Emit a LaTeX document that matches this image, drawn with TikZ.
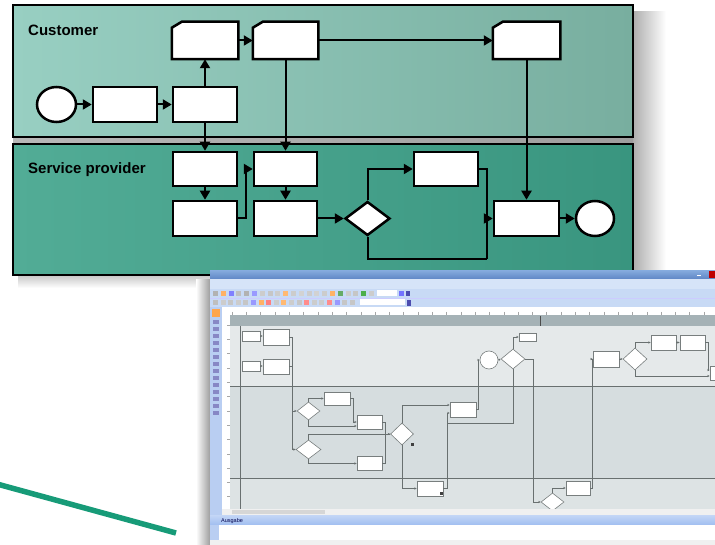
\documentclass[tikz,border=0pt]{standalone}
\usepackage{fontspec}
\setmainfont{Liberation Sans}
\usetikzlibrary{arrows.meta,shapes.geometric}
\definecolor{laneAa}{RGB}{152,207,194}
\definecolor{laneAb}{RGB}{104,156,141}
\definecolor{laneAc}{RGB}{120,174,159}
\definecolor{laneBa}{RGB}{82,172,150}
\definecolor{laneBb}{RGB}{47,139,116}
\definecolor{laneBc}{RGB}{57,149,127}
\definecolor{penline}{RGB}{23,155,120}
\definecolor{titleA}{RGB}{130,168,220}
\definecolor{titleB}{RGB}{95,135,198}
\definecolor{menubg}{RGB}{214,228,248}
\definecolor{toolbg}{RGB}{200,218,245}
\definecolor{strip}{RGB}{185,206,242}
\definecolor{hdrband}{RGB}{165,178,182}
\definecolor{regA}{RGB}{229,233,234}
\definecolor{regB}{RGB}{214,221,223}
\definecolor{regC}{RGB}{221,227,228}
\definecolor{sgray}{RGB}{105,112,112}
\definecolor{sbord}{RGB}{120,126,126}
\definecolor{blueA}{RGB}{196,214,246}
\definecolor{blueB}{RGB}{160,190,240}
\newcommand\mydocshape[1]{\draw[line width=2.5pt, fill=white, line join=miter] (#1.south west) -- (#1.south east) -- (#1.north east) -- ([xshift=10pt]#1.north west) -- ([yshift=-6pt]#1.north west) -- cycle;}
\begin{document}
\begin{tikzpicture}[x=1pt,y=-1pt,
  lane/.style={draw=black, line width=2.5pt},
  lanelabel/.style={font=\bfseries\fontsize{15}{18}\selectfont, inner sep=0pt, anchor=west},
  box/.style={draw=black, line width=2.5pt, fill=white, minimum width=64pt, minimum height=35pt, inner sep=0pt},
  docbox/.style={minimum width=64pt, minimum height=35pt, inner sep=0pt, outer sep=1.25pt},
  evt/.style={ellipse, draw=black, line width=2.5pt, fill=white, minimum width=39pt, minimum height=35pt, inner sep=0pt},
  gate/.style={diamond, draw=black, line width=2.5pt, fill=white, minimum width=45pt, minimum height=34pt, inner sep=0pt},
  flow/.style={line width=2pt, -{Triangle[length=9pt,width=10pt]}},
  plain/.style={line width=2pt},
  sbox/.style={draw=sbord, line width=0.6pt, fill=white, inner sep=0pt},
  sgate/.style={diamond, draw=sbord, line width=0.6pt, fill=white, inner sep=0pt},
  sflow/.style={draw=sgray, line width=0.6pt, -{Stealth[length=2.5pt,width=2.2pt]}},
  sline/.style={draw=sgray, line width=0.6pt}
]
\useasboundingbox (0,0) rectangle (715,545);
\fill[white] (0,0) rectangle (715,545);

% ---------- shadows of the lanes ----------
\shade[left color=black!32, right color=white] (633,12) rectangle (666,282);
\shade[top color=black!22, bottom color=white] (18,275) rectangle (633,288);
\shade[left color=black!28, right color=black!38] (13,137) rectangle (633,144);

% ---------- lanes ----------
\shade[left color=laneAa, middle color=laneAb, right color=laneAc] (13,5) rectangle (633,137);
\draw[lane] (13,5) rectangle (633,137);
\shade[left color=laneBa, middle color=laneBb, right color=laneBc] (13,144) rectangle (633,275);
\draw[lane] (13,144) rectangle (633,275);
\node[lanelabel] (custlbl) at (28,30.5) {Customer};
\node[lanelabel] (servlbl) at (28,169.5) {Service provider};

% ---------- nodes ----------
\node[evt] (S) at (56.5,104.5) {};
\node[box] (A) at (125,104.5) {};
\node[box] (B) at (205,104.5) {};
\node[docbox] (C) at (205,40.5) {};
\node[docbox, minimum width=63pt] (D) at (285.5,40.5) {};
\node[docbox, minimum width=65pt] (E) at (526.5,40.5) {};
\mydocshape{C}
\mydocshape{D}
\mydocshape{E}
\node[box, minimum height=34pt] (F) at (205,169) {};
\node[box] (G) at (205,218.5) {};
\node[box, minimum width=63pt, minimum height=34pt] (H) at (285.5,169) {};
\node[box, minimum width=63pt] (I) at (285.5,218.5) {};
\node[gate] (Dm) at (367.5,218.5) {};
\node[box, minimum height=34pt] (J) at (446,169) {};
\node[box, minimum width=65pt] (K) at (526.5,218.5) {};
\node[evt, minimum width=38pt] (End) at (595,218.5) {};
\coordinate (m1) at (487,259);
\coordinate (m2) at (487,218.5);

% ---------- connectors ----------
\draw[flow] (S) -- (A);
\draw[flow] (A) -- (B);
\draw[flow] (B) -- (C);
\draw[flow] (C) -- (D);
\draw[flow] (D.east) -- (E.west);
\draw[flow] (B.south) -- (F.north);
\draw[flow] (D.south) -- (H.north);
\draw[flow] (F) -- (G);
\draw[flow] (H) -- (I);
\draw[flow] (G.east) -- ([xshift=8pt]G.east) |- (H.west);
\draw[flow] (I.east) -- (Dm.west);
\draw[flow] (Dm.north) |- (J.west);
\draw[plain] (Dm.south) |- (m1);
\draw[flow] (m1) |- (K.west);
\draw[plain] (J.east) -| (m2);
\draw[flow] (E.south) -- (K.north);
\draw[flow] (K) -- (End);

% ---------- green stroke ----------
\draw[penline, line width=5.5pt] (-3,484) -- (176,533);

% ---------- screenshot ----------
\shade[left color=white, right color=black!38] (196,280) rectangle (210,545);
\fill[menubg] (210,271) rectangle (715,545);
\shade[top color=titleA, bottom color=titleB] (210,271) rectangle (715,279);
\fill[red!75!black] (709,271) rectangle (715,278.5);
\draw[white, line width=0.8pt] (697,275) -- (701,275);
\fill[menubg] (210,279) rectangle (715,289);
\fill[toolbg] (210,289) rectangle (715,307);
\draw[white!80!blue, line width=0.5pt] (210,298) -- (715,298);
\foreach \i/\c in {0/gray!60,1/orange!60,2/blue!50,3/gray!50,4/gray!60,5/blue!40,6/gray!40,7/gray!45,8/gray!40,9/orange!55,10/gray!40,11/gray!35,12/gray!40,13/gray!35,14/gray!40,15/orange!60,16/green!45!black!60,17/gray!40,18/gray!45,19/green!55!black!70,20/gray!40}
  \fill[\c] (213+7.8*\i,291) rectangle (218+7.8*\i,296.5);
\fill[white] (377,290.5) rectangle (397,296.5);
\fill[blue!55] (399,291) rectangle (404,296);
\fill[blue!55!black!70] (406,291) rectangle (410,296);
\foreach \i/\c in {0/gray!50,1/gray!40,2/gray!45,3/gray!40,4/gray!45,5/blue!40,6/orange!60,7/red!50,8/gray!40,9/orange!55,10/gray!40,11/gray!45,12/red!45,13/gray!40,14/gray!40,15/red!45,16/blue!40,17/gray!45,18/gray!45}
  \fill[\c] (213+7.6*\i,300) rectangle (218+7.6*\i,305.5);
\fill[white] (360,299.5) rectangle (405,305.5);
\fill[blue!55!black!70] (407,300) rectangle (411,306);
% left tool strip
\fill[strip] (210,307) rectangle (222,516);
\fill[orange!70] (211.5,309) rectangle (220,317);
\foreach \yy in {320,327,334,341,348,355,362,369,376,383,390,397,404,411}
  \fill[blue!35!gray!70] (213,\yy) rectangle (219,\yy+4);
% rulers
\fill[white] (222,307) rectangle (715,315);
\fill[white] (222,315) rectangle (230,510);
\foreach \k in {0,...,34}
  \draw[gray!70, line width=0.4pt] (232+14.3*\k,312) -- (232+14.3*\k,315);
\foreach \k in {0,...,13}
  \draw[gray!70, line width=0.4pt] (227,325+14.3*\k) -- (230,325+14.3*\k);
% canvas regions
\fill[hdrband] (230,315) rectangle (715,326);
\draw[gray!60!black, line width=0.6pt] (540,316) -- (540,326);
\fill[regA] (230,326) rectangle (715,386);
\fill[regB] (230,386) rectangle (715,478);
\fill[regC] (230,478) rectangle (715,510);
\draw[sgray, line width=0.8pt] (230,386) -- (715,386);
\draw[sgray, line width=0.8pt] (230,478) -- (715,478);
\draw[sgray, line width=0.6pt] (240,326) -- (240,510);

% screenshot flowchart nodes
\node[sbox, minimum width=18pt, minimum height=10pt] (s1) at (251,336) {};
\node[sbox, minimum width=26pt, minimum height=16pt] (s2) at (276,337) {};
\node[sbox, minimum width=18pt, minimum height=10pt] (s3) at (251,366) {};
\node[sbox, minimum width=26pt, minimum height=15pt] (s4) at (276,366.5) {};
\node[sgate, minimum width=23pt, minimum height=18pt] (sd1) at (308.5,411) {};
\node[sgate, minimum width=25pt, minimum height=19pt] (sd2) at (308.5,449.5) {};
\node[sbox, minimum width=26pt, minimum height=13pt] (s5) at (337,398.5) {};
\node[sbox, minimum width=25pt, minimum height=14pt] (s6) at (369.5,422) {};
\node[sbox, minimum width=25pt, minimum height=14pt] (s7) at (369.5,463.5) {};
\node[sgate, minimum width=23pt, minimum height=22pt] (sd3) at (402,434) {};
\node[sbox, minimum width=26pt, minimum height=15pt] (s8) at (463,409.5) {};
\node[sbox, minimum width=26pt, minimum height=15pt] (s9) at (430,488.5) {};
\node[circle, draw=sbord, line width=0.6pt, fill=white, minimum size=18pt, inner sep=0pt] (sc) at (489,360) {};
\node[sgate, minimum width=24pt, minimum height=20pt] (sd4) at (513,359) {};
\node[sbox, minimum width=17pt, minimum height=8pt] (s10) at (527.5,337) {};
\node[sgate, minimum width=23pt, minimum height=18pt] (sd5) at (552.5,502) {};
\node[sbox, minimum width=24pt, minimum height=14pt] (s11) at (578,488) {};
\node[sbox, minimum width=26pt, minimum height=16pt] (s12) at (606,359) {};
\node[sgate, minimum width=24pt, minimum height=22pt] (sd6) at (635,359) {};
\node[sbox, minimum width=25pt, minimum height=15pt] (s13) at (663.5,342.5) {};
\node[sbox, minimum width=25pt, minimum height=15pt] (s14) at (692.5,342.5) {};
\node[sbox, minimum width=22pt, minimum height=14pt] (s15) at (721,373) {};
\coordinate (j1) at (292,337);
\coordinate (j2) at (447,423);

% screenshot connectors
\draw[sflow] (s1.east) -- (s1.east -| s2.west);
\draw[sflow] (s3.east) -- (s3.east -| s4.west);
\draw[sflow] (s2.east) -- (j1) |- (sd2.west);
\draw[sline] (s4.east) -- (s4.east -| j1);
\draw[sflow] (j1 |- sd1.west) -- (sd1.west);
\draw[sflow] (sd1.north) |- (s5.west);
\draw[sflow] (sd1.south) |- ([yshift=-4pt]s6.west);
\draw[sflow] (s5.east) -- ++(3,0) |- (s6.west);
\draw[sflow] (sd2.north) |- (sd3.west);
\draw[sflow] (sd2.south) |- (s7.west);
\draw[sline] (s6.east) -- ++(3,0) |- (sd3.west);
\draw[sline] (s7.east) -- ++(3,0) |- (sd3.west);
\draw[sflow] (sd3.north) |- ([yshift=4.5pt]s8.west);
\draw[sflow] (sd3.south) |- (s9.west);
\draw[sflow] (s9.east) -- ++(4,0) |- ([yshift=-3.5pt]s8.west);
\draw[sflow] (s8.east) -- ++(2,0) |- (sc.west);
\draw[sflow] (sc.east) -- (sd4.west);
\draw[sflow] (sd4.north) |- (s10.west);
\draw[sline] (sd4.south) |- (j2);
\draw[sflow] (sd4.east) -- ++(8,0) |- (sd5.west);
\draw[sflow] (sd5.north) |- (s11.west);
\draw[sflow] (s11.east) -- ++(2,0) |- (s12.west);
\draw[sflow] (s12.east) -- (sd6.west);
\draw[sflow] (sd6.north) |- (s13.west);
\draw[sflow] (s13.east) -- (s14.west);
\draw[sflow] (s14.east) -- ++(2.5,0) |- ([yshift=3pt]s15.west);
\draw[sflow] (sd6.south) |- ([yshift=-3pt]s15.west);
\fill[black!75] (411,443) rectangle (414,446);
\fill[black!75] (440,492) rectangle (443,495);

% scrollbar, output panel, status bar
\fill[gray!12] (222,509) rectangle (715,515);
\fill[gray!32] (232,509.8) rectangle (325,514);
\shade[top color=blueA, bottom color=blueB] (210,515) rectangle (715,525);
\node[font=\fontsize{5.5}{6}\selectfont, text=blue!30!black, inner sep=0pt, anchor=west] (ausg) at (221,521) {Ausgabe};
\fill[strip] (210,525) rectangle (219,540);
\fill[white] (219,525) rectangle (715,540);
\fill[gray!12] (210,540) rectangle (715,545);
\end{tikzpicture}
\end{document}
